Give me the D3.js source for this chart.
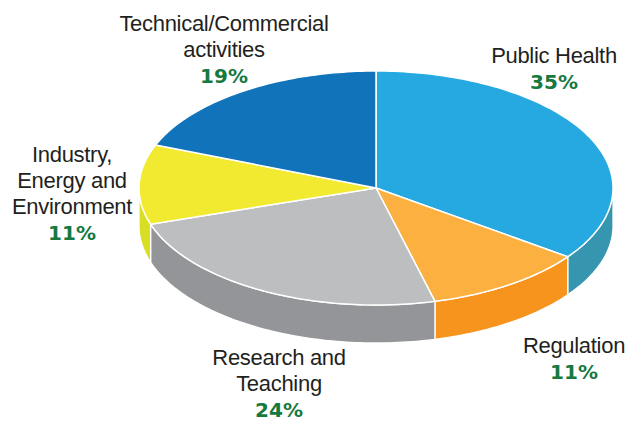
<!DOCTYPE html>
<html>
<head>
<meta charset="utf-8">
<script src="https://cdn.jsdelivr.net/npm/d3@7"></script>
<style>
  html, body { margin: 0; padding: 0; background: #fff; }
  svg { display: block; }
</style>
</head>
<body>
<div id="chart"></div>
<script>
// chart data
const categories = ["Public Health", "Regulation", "Research and Teaching", "Industry, Energy and Environment", "Technical/Commercial activities"];
const shares = [35, 11, 24, 11, 19];
const labelLines = [
  ["Public Health"],
  ["Regulation"],
  ["Research and", "Teaching"],
  ["Industry,", "Energy and", "Environment"],
  ["Technical/Commercial", "activities"]
];

// styling
const topColors = ["#26A9E0", "#FBB040", "#BCBEC0", "#F2EA31", "#1174BB"];
const sideColors = ["#3796AF", "#F7941E", "#939598", "#D8DE24", "#0E5E96"];
// label anchor (centre x, first baseline y) per slice
const labelPos = [[554, 63], [574, 353], [279, 365], [72, 162], [224, 31]];

const W = 629, H = 423;
const cx = 376, cy = 188, rx = 237, ry = 117, depth = 38;
const lineH = 26;

const svg = d3.select('#chart').append('svg')
  .attr('width', W)
  .attr('height', H);

const arcs = d3.pie().sort(null).value(d => d)(shares);

// angle 0 = 12 o'clock, clockwise
function pt(a, dy) {
  return [cx + rx * Math.sin(a), cy - ry * Math.cos(a) + (dy || 0)];
}
function samples(a0, a1) {
  let n = Math.max(2, Math.ceil((a1 - a0) / 0.02));
  return d3.range(n + 1).map(i => a0 + (a1 - a0) * i / n);
}
const line = d3.line().curve(d3.curveLinear);

// side walls (front half only)
const sides = svg.append('g');
arcs.forEach(function (d, i) {
  let s0 = Math.max(d.startAngle, Math.PI / 2);
  let s1 = Math.min(d.endAngle, Math.PI * 1.5);
  if (s0 >= s1) return;
  let a = samples(s0, s1);
  let pts = a.map(t => pt(t)).concat(a.slice().reverse().map(t => pt(t, depth)));
  sides.append('path')
    .attr('d', line(pts) + 'Z')
    .attr('fill', sideColors[i])
    .attr('stroke', '#fff')
    .attr('stroke-width', 1.3)
    .attr('stroke-linejoin', 'round');
});

// top faces
const tops = svg.append('g');
arcs.forEach(function (d, i) {
  let pts = [[cx, cy]].concat(samples(d.startAngle, d.endAngle).map(t => pt(t)));
  tops.append('path')
    .attr('d', line(pts) + 'Z')
    .attr('fill', topColors[i])
    .attr('stroke', '#fff')
    .attr('stroke-width', 1.5)
    .attr('stroke-linejoin', 'round');
});

// labels
const labels = svg.append('g').attr('text-anchor', 'middle');
labelLines.forEach(function (lines, i) {
  let x = labelPos[i][0], y = labelPos[i][1];
  lines.forEach(function (txt, j) {
    labels.append('text')
      .attr('x', x)
      .attr('y', y + j * lineH)
      .attr('font-family', 'Liberation Sans, Arial, sans-serif')
      .attr('font-size', 22)
      .attr('letter-spacing', -0.3)
      .attr('fill', '#231F20')
      .text(txt);
  });
  labels.append('text')
    .attr('x', x)
    .attr('y', y + lines.length * lineH)
    .attr('font-family', 'DejaVu Sans, sans-serif')
    .attr('font-weight', 'bold')
    .attr('font-size', 20)
    .attr('fill', '#16793F')
    .text(shares[i] + '%');
});
</script>
</body>
</html>
